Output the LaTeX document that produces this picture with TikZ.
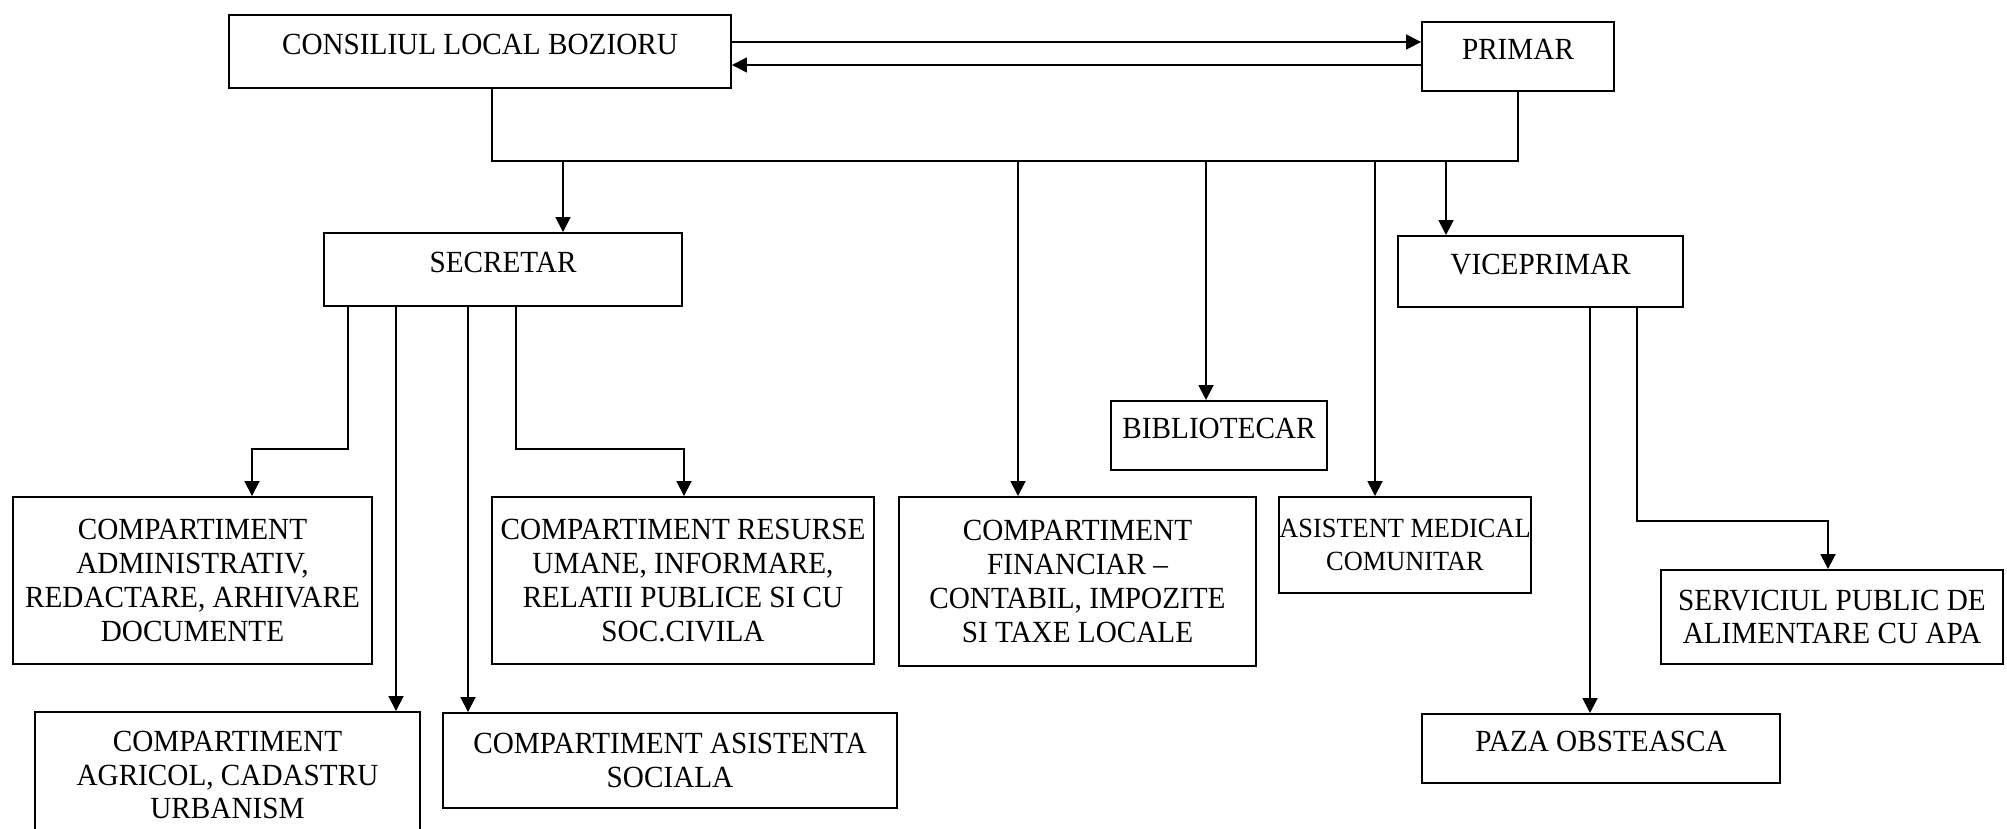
\documentclass[tikz,border=0pt]{standalone}
\usepackage{fontspec}
\setmainfont{Liberation Serif}[FakeStretch=0.95]
\usepackage{tikz}
\usetikzlibrary{arrows.meta}

\begin{document}
\begin{tikzpicture}[x=0.02cm, y=-0.02cm,
  box/.style={draw, line width=1.1pt, align=center, inner sep=2pt,
    font=\fontsize{17.5}{19.2}\selectfont},
  raised/.style={text depth=0.3cm},
  arr/.style={line width=1pt, -{Triangle[length=0.3cm, width=0.3cm]}},
  ln/.style={line width=1pt}]
\useasboundingbox (0,0) rectangle (2007,828);

% top level
\node[box, raised, minimum width=502*0.02cm, minimum height=73*0.02cm] (consiliu) at (480,51.5) {CONSILIUL LOCAL BOZIORU};
\node[box, raised, minimum width=192*0.02cm, minimum height=69*0.02cm] (primar) at (1518,56.5) {PRIMAR};

% second level
\node[box, raised, minimum width=358*0.02cm, minimum height=73*0.02cm] (secretar) at (503,269.5) {SECRETAR};
\node[box, raised, minimum width=285*0.02cm, minimum height=71*0.02cm] (viceprimar) at (1540.5,271.5) {VICEPRIMAR};
\node[box, raised, minimum width=216*0.02cm, minimum height=69*0.02cm] (biblio) at (1219,435.5) {BIBLIOTECAR};

% compartimente
\node[box, minimum width=359*0.02cm, minimum height=167*0.02cm] (admin) at (192.5,580.5) {COMPARTIMENT\\ADMINISTRATIV,\\REDACTARE, ARHIVARE\\DOCUMENTE};
\node[box, minimum width=382*0.02cm, minimum height=167*0.02cm] (resurse) at (683,580.5) {COMPARTIMENT RESURSE\\UMANE, INFORMARE,\\RELATII PUBLICE SI CU\\SOC.CIVILA};
\node[box, minimum width=357*0.02cm, minimum height=169*0.02cm] (financiar) at (1077.5,581.5) {COMPARTIMENT\\FINANCIAR --\\CONTABIL, IMPOZITE\\SI TAXE LOCALE};
\node[box, inner xsep=0pt, font=\fontsize{15.8}{19.2}\selectfont, minimum width=252*0.02cm, minimum height=96*0.02cm] (medical) at (1405,545) {ASISTENT MEDICAL\\COMUNITAR};
\node[box, minimum width=342*0.02cm, minimum height=94*0.02cm] (serviciu) at (1832,617) {SERVICIUL PUBLIC DE\\ALIMENTARE CU APA};
\node[box, minimum width=385*0.02cm, minimum height=126*0.02cm] (agricol) at (227.5,775) {COMPARTIMENT\\AGRICOL, CADASTRU\\URBANISM};
\node[box, minimum width=454*0.02cm, minimum height=95*0.02cm] (asistenta) at (670,760.5) {COMPARTIMENT ASISTENTA\\SOCIALA};
\node[box, raised, minimum width=358*0.02cm, minimum height=69*0.02cm] (paza) at (1601,748.5) {PAZA OBSTEASCA};

% consiliu <-> primar
\coordinate (up) at (0,42);
\coordinate (down) at (0,65);
\draw[arr] (consiliu.east |- up) -- (primar.west |- up);
\draw[arr] (primar.west |- down) -- (consiliu.east |- down);

% bus
\coordinate (bus) at (0,161);
\draw[ln] (consiliu.south -| 492,0) -- (492,161) -- (primar.south |- bus) -- (primar.south);
\foreach \x/\n in {563/secretar, 1018/financiar, 1206/biblio, 1375/medical, 1446/viceprimar}
  \draw[arr] (\x,161) -- (\n.north -| \x,0);

% secretar
\draw[arr] (secretar.south -| 348,0) |- (252,449) -- (admin.north -| 252,0);
\draw[arr] (secretar.south -| 396,0) -- (agricol.north -| 396,0);
\draw[arr] (secretar.south -| 468,0) -- (asistenta.north -| 468,0);
\draw[arr] (secretar.south -| 516,0) |- (684,449) -- (resurse.north -| 684,0);

% viceprimar
\draw[arr] (viceprimar.south -| 1590,0) -- (paza.north -| 1590,0);
\draw[arr] (viceprimar.south -| 1637,0) |- (1828,521) -- (serviciu.north -| 1828,0);
\end{tikzpicture}
\end{document}
